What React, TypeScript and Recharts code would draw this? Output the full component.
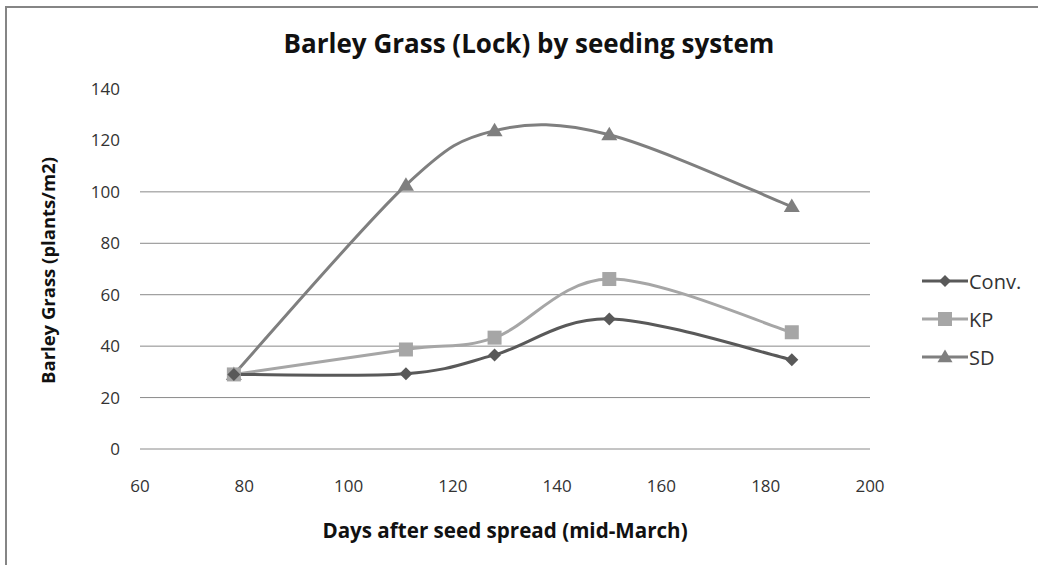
import React from 'react';
import { LineChart, Line, XAxis, YAxis, CartesianGrid } from 'recharts';

const days = [78, 111, 128, 150, 185];
const convValues = [29, 29.3, 36.6, 50.6, 34.7];
const kpValues = [29, 38.7, 43.3, 66.1, 45.4];
const sdValues = [29, 102.6, 123.8, 122.2, 94.3];
const xTicks = [60, 80, 100, 120, 140, 160, 180, 200];
const yTicks = [0, 20, 40, 60, 80, 100, 120, 140];
const gridValues = [0, 20, 40, 60, 80, 100];

const seriesNames = ['Conv.', 'KP', 'SD'];
const colors = { conv: '#595959', kp: '#a6a6a6', sd: '#7f7f7f' };

const data = days.map((d, i) => ({ day: d, conv: convValues[i], kp: kpValues[i], sd: sdValues[i] }));

// Excel-like smooth curve (Catmull-Rom style Bezier)
const excelCurve: any = (context: any) => {
  let pts: number[][] = [];
  return {
    areaStart() {},
    areaEnd() {},
    lineStart() { pts = []; },
    lineEnd() {
      if (!pts.length) return;
      context.moveTo(pts[0][0], pts[0][1]);
      const t = 1 / 6;
      for (let i = 0; i < pts.length - 1; i++) {
        const p0 = pts[Math.max(i - 1, 0)];
        const p1 = pts[i];
        const p2 = pts[i + 1];
        const p3 = pts[Math.min(i + 2, pts.length - 1)];
        context.bezierCurveTo(
          p1[0] + (p2[0] - p0[0]) * t, p1[1] + (p2[1] - p0[1]) * t,
          p2[0] - (p3[0] - p1[0]) * t, p2[1] - (p3[1] - p1[1]) * t,
          p2[0], p2[1]
        );
      }
    },
    point(x: number, y: number) { pts.push([+x, +y]); },
  };
};

const Diamond = (cx: number, cy: number, fill: string, r = 6.5) => (
  <path d={`M${cx},${cy - r}L${cx + r},${cy}L${cx},${cy + r}L${cx - r},${cy}Z`} fill={fill} />
);
const Square = (cx: number, cy: number, fill: string, r = 7) => (
  <rect x={cx - r} y={cy - r} width={2 * r} height={2 * r} fill={fill} />
);
const Triangle = (cx: number, cy: number, fill: string, r = 8) => (
  <path d={`M${cx},${cy - r}L${cx + r},${cy + r * 0.7}L${cx - r},${cy + r * 0.7}Z`} fill={fill} />
);

const makeDot = (kind: string, fill: string) => (props: any) => {
  const { cx, cy, index } = props;
  const k = `${kind}-${index}`;
  if (cx == null || cy == null) return <g key={k} />;
  let shape;
  if (kind === 'diamond') shape = Diamond(cx, cy, fill);
  else if (kind === 'square') shape = Square(cx, cy, fill);
  else shape = Triangle(cx, cy, fill);
  return <g key={k}>{shape}</g>;
};

const legendItems = [
  { name: seriesNames[0], color: colors.conv, kind: 'diamond' },
  { name: seriesNames[1], color: colors.kp, kind: 'square' },
  { name: seriesNames[2], color: colors.sd, kind: 'triangle' },
];

const font = '"Open Sans", Lato, sans-serif';

const LegendBox = () => (
  <div style={{ position: 'absolute', left: 921, top: 262 }}>
    {legendItems.map((it) => (
      <div key={it.name} style={{ display: 'flex', alignItems: 'center', height: 38 }}>
        <svg width={48} height={20}>
          <line x1={1} y1={10} x2={47} y2={10} stroke={it.color} strokeWidth={3} />
          {it.kind === 'diamond' ? Diamond(24, 10, it.color, 6) : it.kind === 'square' ? Square(24, 10, it.color, 7) : Triangle(24, 10, it.color, 7.5)}
        </svg>
        <span style={{ fontFamily: font, fontSize: 20, color: '#333', marginLeft: 0 }}>{it.name}</span>
      </div>
    ))}
  </div>
);

export default function App() {
  return (
    <div style={{ position: 'absolute', left: 0, top: 0, width: 1038, height: 565, background: '#fff', overflow: 'hidden' }}>
      <div style={{ position: 'absolute', left: 5, top: 6, width: 1040, height: 570, borderTop: '2px solid #858585', borderLeft: '2px solid #858585' }} />
      <div style={{ position: 'absolute', left: 0, top: 25, width: 1058, textAlign: 'center', fontFamily: font, fontWeight: 700, fontSize: 26, color: '#111', whiteSpace: 'nowrap' }}>
        Barley Grass (Lock) by seeding system
      </div>
      <div style={{ position: 'absolute', left: 205, top: 516, width: 600, textAlign: 'center', fontFamily: font, fontWeight: 700, fontSize: 20.6, color: '#111', whiteSpace: 'nowrap' }}>
        Days after seed spread (mid-March)
      </div>
      <div style={{ position: 'absolute', left: 47, top: 271, width: 0, height: 0 }}>
        <div style={{ position: 'absolute', left: -150, top: -13, width: 300, textAlign: 'center', transform: 'rotate(-90deg)', fontFamily: font, fontWeight: 700, fontSize: 18.5, color: '#111', whiteSpace: 'nowrap' }}>
          Barley Grass (plants/m2)
        </div>
      </div>
      <div style={{ position: 'absolute', left: 0, top: 0 }}>
        <LineChart width={1038} height={565} data={data} margin={{ top: 89, right: 168, bottom: 86, left: 80 }}>
          <CartesianGrid horizontal vertical={false} horizontalValues={gridValues} stroke="#8a8a8a" strokeWidth={1} />
          <XAxis
            dataKey="day"
            type="number"
            domain={[60, 200]}
            ticks={xTicks}
            axisLine={false}
            tickLine={false}
            tickSize={0}
            tickMargin={31}
            height={30}
            tick={{ fontFamily: font, fontSize: 17, fill: '#333' }}
            interval={0}
          />
          <YAxis
            type="number"
            domain={[0, 140]}
            ticks={yTicks}
            axisLine={false}
            tickLine={false}
            tickSize={0}
            tickMargin={20}
            width={60}
            tick={{ fontFamily: font, fontSize: 17, fill: '#333' }}
            interval={0}
          />
          <Line dataKey="sd" name="SD" type={excelCurve} stroke={colors.sd} strokeWidth={3} dot={makeDot('triangle', colors.sd)} activeDot={false} isAnimationActive={false} />
          <Line dataKey="kp" name="KP" type={excelCurve} stroke={colors.kp} strokeWidth={3} dot={makeDot('square', colors.kp)} activeDot={false} isAnimationActive={false} />
          <Line dataKey="conv" name="Conv." type={excelCurve} stroke={colors.conv} strokeWidth={3} dot={makeDot('diamond', colors.conv)} activeDot={false} isAnimationActive={false} />
        </LineChart>
      </div>
      <LegendBox />
    </div>
  );
}
